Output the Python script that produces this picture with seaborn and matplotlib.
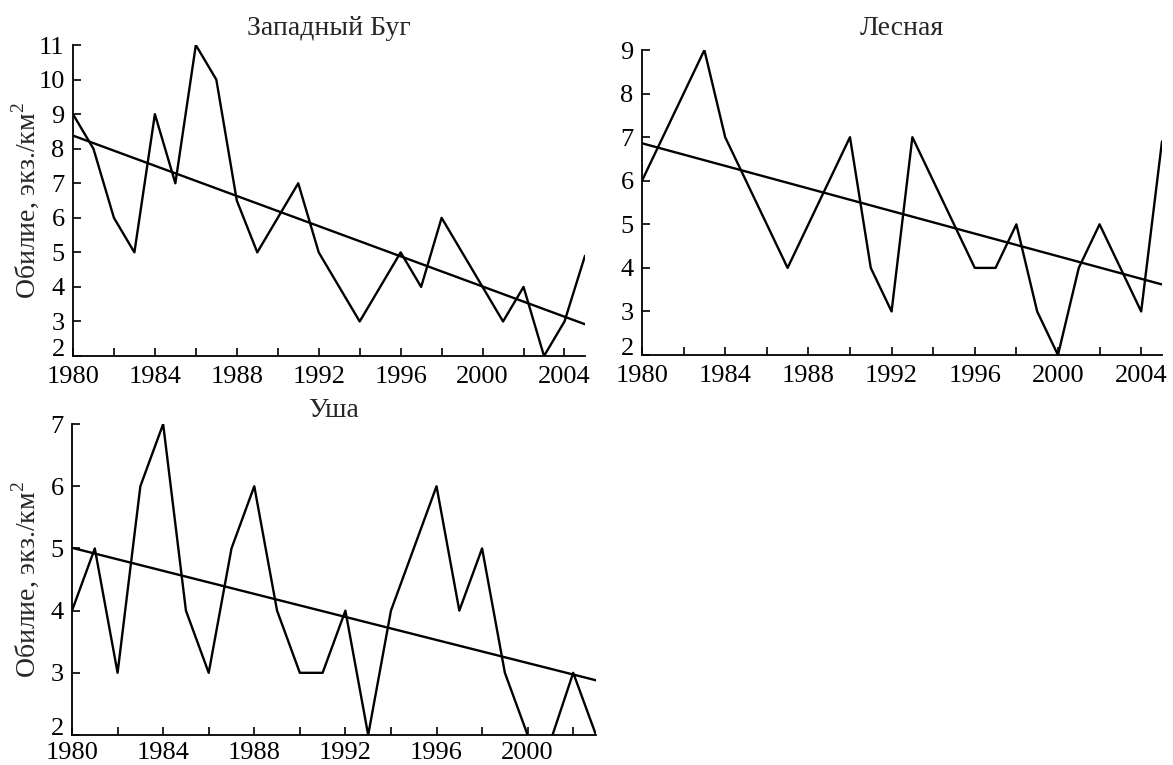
import numpy as np
import pandas as pd
import seaborn as sns
import matplotlib.pyplot as plt
from matplotlib.ticker import MultipleLocator

# --- data ---
years_buh = list(range(1980, 2006))
abund_buh = [9, 8, 6, 5, 9, 7, 11, 10, 6.5, 5, 6, 7, 5, 4, 3, 4, 5, 4, 6, 5,
             4, 3, 4, 2, 3, 4.9]
trend_buh = [8.38, 2.92]

years_les = list(range(1980, 2006))
abund_les = [6, 7, 8, 9, 7, 6, 5, 4, 5, 6, 7, 4, 3, 7, 6, 5, 4, 4, 5, 3,
             2, 4, 5, 4, 3, 6.9]
trend_les = [6.86, 3.62]

years_usha = list(range(1980, 2004))
abund_usha = [4, 5, 3, 6, 7, 4, 3, 5, 6, 4, 3, 3, 4, 2, 4, 5, 6, 4, 5, 3,
              2, 1.9, 3, 2]
trend_usha = [5.01, 2.88]

titles = ['Западный Буг', 'Лесная', 'Уша']
ylabel = 'Обилие, экз./км$^2$'

sns.set_style('ticks')
plt.rcParams['font.family'] = ['Liberation Serif', 'DejaVu Serif']
plt.rcParams['mathtext.fontset'] = 'custom'
plt.rcParams['mathtext.rm'] = 'Liberation Serif'

fig = plt.figure(figsize=(11.73, 7.65), dpi=100)

panels = [
    # x, y, trend, title, axes rect, ymax, title pad, x label pad, ylabel x or None
    (years_buh, abund_buh, trend_buh, titles[0], [0.0622, 0.5346, 0.4365, 0.4065], 11, 7, 7, -0.0625),
    (years_les, abund_les, trend_les, titles[1], [0.5473, 0.5359, 0.4433, 0.3987], 9, 11, 7, None),
    (years_usha, abund_usha, trend_usha, titles[2], [0.0614, 0.0392, 0.4467, 0.4065], 7, 5, 5, -0.059),
]

for yrs, vals, trend, title, rect, ymax, tpad, xpad, ylx in panels:
    ax = fig.add_axes(rect)
    df = pd.DataFrame({'year': yrs, 'value': vals})
    sns.lineplot(data=df, x='year', y='value', ax=ax, color='black', lw=1.7)
    tdf = pd.DataFrame({'year': [yrs[0], yrs[-1]], 'value': trend})
    sns.lineplot(data=tdf, x='year', y='value', ax=ax, color='black', lw=1.7)

    ax.set_xlim(yrs[0], yrs[-1])
    ax.set_ylim(2, ymax)
    ax.set_yticks(range(2, ymax + 1))
    # bottom "2" sits on the axis line, as in the original
    ax.get_yticklabels()[0].set_verticalalignment('baseline')
    ax.xaxis.set_major_locator(MultipleLocator(4))
    ax.xaxis.set_minor_locator(MultipleLocator(2))
    ax.tick_params(axis='both', which='both', direction='in', length=6,
                   width=1.2, labelsize=19, colors='black')
    ax.tick_params(axis='x', which='both', pad=xpad)
    ax.tick_params(axis='y', pad=6)
    sns.despine(ax=ax)
    for s in ['left', 'bottom']:
        ax.spines[s].set_linewidth(1.3)
        ax.spines[s].set_color('black')
    ax.set_title(title, fontsize=20, pad=tpad)
    ax.set_xlabel('')
    if ylx is not None:
        ax.set_ylabel(ylabel, fontsize=20)
        ax.yaxis.set_label_coords(ylx, 0.5)
    else:
        ax.set_ylabel('')

fig.savefig('out.png', dpi=100)
